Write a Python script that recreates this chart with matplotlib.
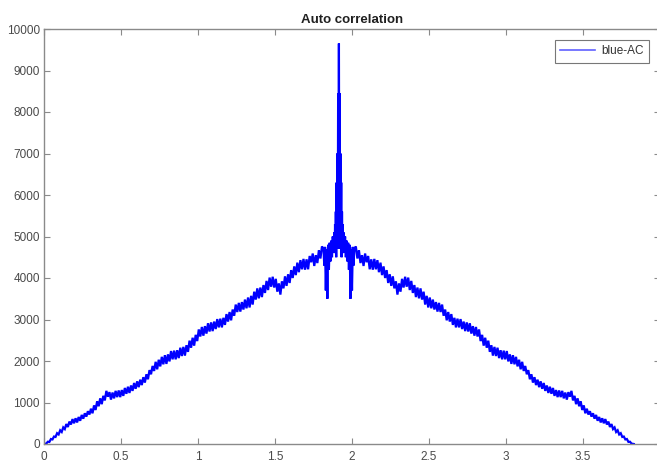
import numpy as np
import matplotlib
matplotlib.use("Agg")
import matplotlib.pyplot as plt

plt.rcParams['font.family'] = ['Liberation Sans', 'DejaVu Sans']

# ---- data (autocorrelation is symmetric about the centre lag) ----
center_x = 1.915

# fine sampling near the zero-lag spike
lag_near = [0.0, 0.0025, 0.005, 0.0075, 0.01, 0.0125, 0.015, 0.0175, 0.02, 0.0225, 0.025, 0.0275, 0.03,
            0.035, 0.04, 0.045, 0.05, 0.055, 0.06, 0.065, 0.07, 0.075, 0.08, 0.085, 0.09, 0.095, 0.1]
ac_near = [9650, 5000, 8450, 4700, 7000, 4900, 6300, 4500, 5600, 4700, 5300, 4600, 5100,
           4650, 5000, 4500, 4900, 4400, 4850, 4200, 4800, 3500, 4700, 3700, 4750, 4300, 4700]

# lags 0.11 ... 1.91 in steps of 0.01, then the end point
lag_far = list(np.round(np.arange(0.11, 1.9101, 0.01), 3)) + [1.915]
ac_far = [
    4760, 4470, 4670, 4360, 4550, 4290, 4590, 4380, 4530, 4210,   # 0.11-0.20
    4450, 4200, 4460, 4210, 4430, 4140, 4370, 4070, 4280, 4000,   # 0.21-0.30
    4190, 3880, 4090, 3810, 4040, 3750, 3920, 3600, 3870, 3670,   # 0.31-0.40
    3980, 3770, 4030, 3790, 4010, 3710, 3930, 3640, 3830, 3540,   # 0.41-0.50
    3770, 3510, 3750, 3480, 3670, 3360, 3570, 3290, 3530, 3270,   # 0.51-0.60
    3480, 3240, 3420, 3190, 3400, 3180, 3360, 3090, 3240, 2980,   # 0.61-0.70
    3180, 2950, 3130, 2870, 3040, 2810, 3020, 2810, 3010, 2770,   # 0.71-0.80
    2950, 2720, 2930, 2710, 2910, 2660, 2840, 2610, 2820, 2590,   # 0.81-0.90
    2760, 2480, 2630, 2370, 2560, 2320, 2490, 2220, 2380, 2130,   # 0.91-1.00
    2340, 2120, 2320, 2070, 2260, 2040, 2250, 2040, 2240, 1990,   # 1.01-1.10
    2160, 1930, 2140, 1920, 2100, 1870, 2030, 1800, 1980, 1760,   # 1.11-1.20
    1880, 1680, 1780, 1560, 1680, 1480, 1610, 1420, 1550, 1370,   # 1.21-1.30
    1510, 1330, 1470, 1280, 1410, 1230, 1380, 1210, 1350, 1160,   # 1.31-1.40
    1300, 1130, 1290, 1130, 1280, 1100, 1240, 1070, 1250, 1140,   # 1.41-1.50
    1280, 1050, 1160, 960, 1100, 910, 1030, 820, 930, 740,        # 1.51-1.60
    850, 710, 790, 660, 740, 610, 700, 560, 650, 520,             # 1.61-1.70
    620, 500, 600, 470, 540, 410, 480, 360, 400, 290,             # 1.71-1.80
    330, 230, 260, 170, 180, 110, 120, 50, 55, 10,                # 1.81-1.90
    5, 0,                                                         # 1.91, 1.915
]

lag_half = np.array(lag_near + lag_far, dtype=float)
ac_half = np.array(ac_near + ac_far, dtype=float)
assert len(lag_half) == len(ac_half)

# full symmetric curve
x_vals = np.concatenate([center_x - lag_half[::-1], center_x + lag_half[1:]])
y_vals = np.concatenate([ac_half[::-1], ac_half[1:]])

title_text = "Auto correlation"
legend_label = "blue-AC"
x_ticks = [0, 0.5, 1, 1.5, 2, 2.5, 3, 3.5, 4]
x_tick_labels = ["0", "0.5", "1", "1.5", "2", "2.5", "3", "3.5", "4"]
y_ticks = list(range(0, 10001, 1000))
y_tick_labels = [str(v) for v in y_ticks]

# ---- figure ----
W, H = 657, 463
fig = plt.figure(figsize=(W / 100, H / 100), dpi=100)
fig.patch.set_facecolor('white')
ax = fig.add_axes([44 / W, 19 / H, (660 - 44) / W, (444 - 29) / H])

ax.plot(x_vals, y_vals, color='#0000ff', lw=1.6, label=legend_label,
        solid_joinstyle='miter')

ax.set_xlim(0, 4)
ax.set_ylim(0, 10000)
ax.set_xticks(x_ticks)
ax.set_xticklabels(x_tick_labels)
ax.set_yticks(y_ticks)
ax.set_yticklabels(y_tick_labels)

spine_col = '#8a8a8a'
for s in ax.spines.values():
    s.set_color(spine_col)
    s.set_linewidth(1.0)
ax.tick_params(direction='in', length=4, width=0.8, color=spine_col,
               labelsize=8.5, labelcolor='#4a4a4a', top=True, right=True)
ax.tick_params(axis='x', pad=5)
ax.tick_params(axis='y', pad=3)

ax.set_title(title_text, fontsize=9.5, fontweight='bold', color='#202020', pad=4)

leg = ax.legend(loc='upper right', fontsize=8.5, frameon=True, fancybox=False,
                borderpad=0.45, handlelength=3.0, handletextpad=0.5, borderaxespad=0,
                bbox_to_anchor=(649 / W, (463 - 40) / H), bbox_transform=fig.transFigure)
leg.get_frame().set_edgecolor('#555555')
leg.get_frame().set_linewidth(0.8)
for ln in leg.get_lines():
    ln.set_color('#6060ff')
    ln.set_linewidth(1.2)
for t in leg.get_texts():
    t.set_color('#333333')

fig.savefig('out.png', dpi=100)
